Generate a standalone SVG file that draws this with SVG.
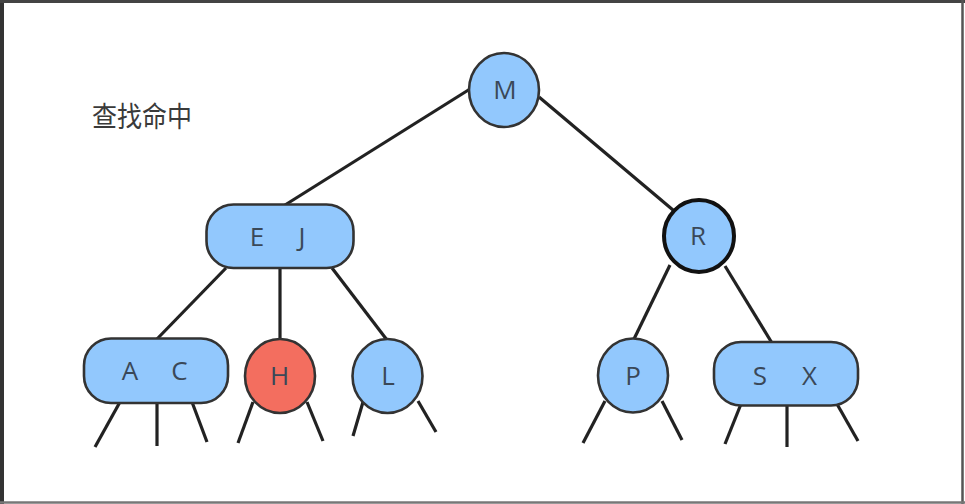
<svg xmlns="http://www.w3.org/2000/svg" width="965" height="504" viewBox="0 0 965 504">
<style>
.edge{stroke:#222;stroke-width:3.2;stroke-linecap:butt;fill:none}
.node{fill:#92c8fd;stroke:#333;stroke-width:2.6}
.hit{fill:#f36e5f;stroke:#333;stroke-width:2.6}
.strong{fill:#92c8fd;stroke:#111;stroke-width:4}
.lbl{font-family:"Open Sans","Noto Sans","Liberation Sans",sans-serif;font-size:26px;fill:#3a4858;text-anchor:middle}
.title{font-family:"Noto Sans CJK SC","Noto Sans",sans-serif;font-size:25px;fill:#3a3a3a}
</style>
<rect x="0" y="0" width="965" height="504" fill="#ffffff"/>
<g id="frame" fill="none">
<line x1="2" y1="0" x2="2" y2="504" stroke="#333" stroke-width="4"/>
<line x1="0" y1="1.5" x2="965" y2="1.5" stroke="#444" stroke-width="3"/>
<line x1="962.5" y1="0" x2="962.5" y2="504" stroke="#555" stroke-width="2.5"/>
<line x1="0" y1="502.5" x2="965" y2="502.5" stroke="#777" stroke-width="2.5"/>
</g>
<text id="caption" class="title" transform="translate(92,127) scale(1,1.12)">查找命中</text>
<g id="connectors">
<line class="edge" x1="470" y1="89" x2="285" y2="205"/>
<line class="edge" x1="539" y1="97" x2="673" y2="210"/>
<line class="edge" x1="226" y1="268" x2="157" y2="339"/>
<line class="edge" x1="280" y1="268" x2="280" y2="340"/>
<line class="edge" x1="332" y1="268" x2="387" y2="340"/>
<line class="edge" x1="670" y1="265" x2="634" y2="339"/>
<line class="edge" x1="725" y1="266" x2="772" y2="343"/>
<line class="edge" x1="120" y1="402" x2="95" y2="447"/>
<line class="edge" x1="157" y1="402" x2="157" y2="446"/>
<line class="edge" x1="192" y1="402" x2="207" y2="442"/>
<line class="edge" x1="253" y1="402" x2="238" y2="443"/>
<line class="edge" x1="307" y1="402" x2="323" y2="441"/>
<line class="edge" x1="363" y1="402" x2="353" y2="436"/>
<line class="edge" x1="418" y1="401" x2="436" y2="432"/>
<line class="edge" x1="605" y1="401" x2="583" y2="443"/>
<line class="edge" x1="662" y1="401" x2="682" y2="440"/>
<line class="edge" x1="741" y1="404" x2="725" y2="444"/>
<line class="edge" x1="787" y1="404" x2="787" y2="447"/>
<line class="edge" x1="837" y1="404" x2="858" y2="441"/>
</g>
<g id="node-M">
<ellipse class="node" cx="504" cy="90" rx="35" ry="37"/>
<text class="lbl" x="505" y="99">M</text>
</g>
<g id="node-EJ">
<rect class="node" x="206.5" y="204.5" width="147" height="63.5" rx="27" ry="27"/>
<text class="lbl" x="257" y="246">E</text>
<text class="lbl" x="302" y="246">J</text>
</g>
<g id="node-R">
<ellipse class="strong" cx="699" cy="236" rx="35" ry="36"/>
<text class="lbl" x="698" y="245">R</text>
</g>
<g id="node-AC">
<rect class="node" x="84" y="338.5" width="144" height="64.5" rx="27" ry="27"/>
<text class="lbl" x="130" y="380">A</text>
<text class="lbl" x="179.5" y="380">C</text>
</g>
<g id="node-H">
<ellipse class="hit" cx="280" cy="376" rx="35" ry="37"/>
<text class="lbl" x="279.5" y="385">H</text>
</g>
<g id="node-L">
<ellipse class="node" cx="387.5" cy="376" rx="35" ry="37"/>
<text class="lbl" x="388" y="385">L</text>
</g>
<g id="node-P">
<ellipse class="node" cx="633" cy="375.5" rx="35" ry="37"/>
<text class="lbl" x="633" y="385">P</text>
</g>
<g id="node-SX">
<rect class="node" x="714" y="342" width="144" height="63.5" rx="27" ry="27"/>
<text class="lbl" x="760" y="385">S</text>
<text class="lbl" x="809.5" y="385">X</text>
</g>
</svg>
